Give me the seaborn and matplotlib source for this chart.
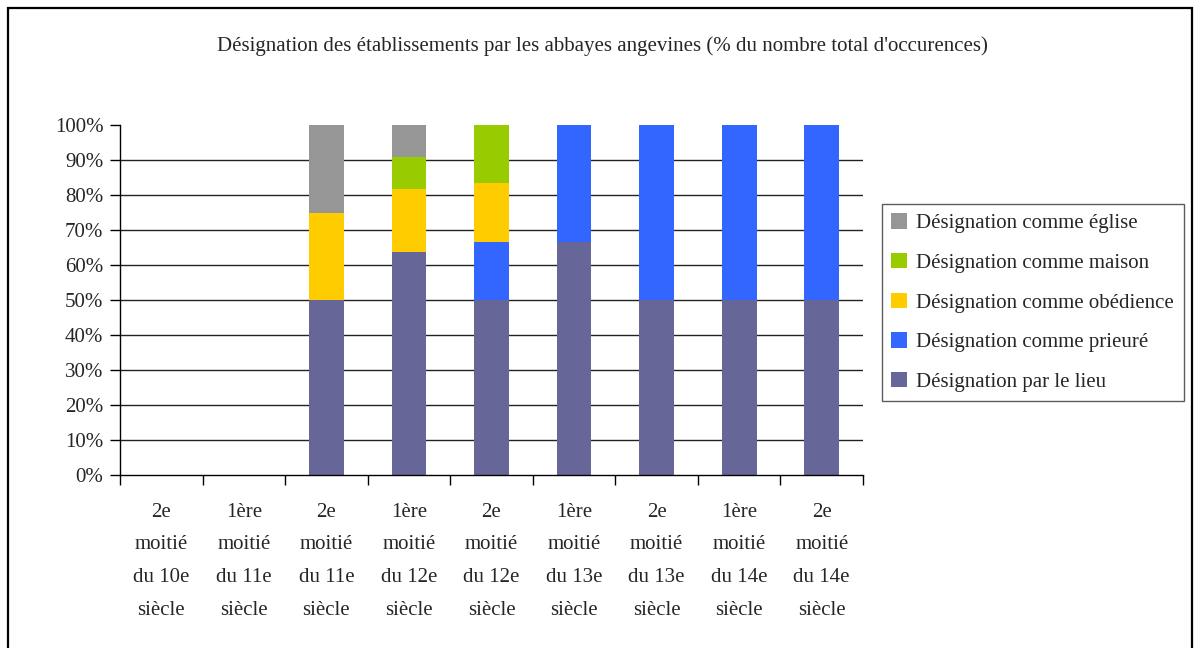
import matplotlib
matplotlib.use("Agg")
import matplotlib.pyplot as plt
from matplotlib.patches import Rectangle, Patch
import seaborn as sns
import pandas as pd
import numpy as np

# Period labels (x categories)
periodes = [
    "2e\nmoitié\ndu 10e\nsiècle",
    "1ère\nmoitié\ndu 11e\nsiècle",
    "2e\nmoitié\ndu 11e\nsiècle",
    "1ère\nmoitié\ndu 12e\nsiècle",
    "2e\nmoitié\ndu 12e\nsiècle",
    "1ère\nmoitié\ndu 13e\nsiècle",
    "2e\nmoitié\ndu 13e\nsiècle",
    "1ère\nmoitié\ndu 14e\nsiècle",
    "2e\nmoitié\ndu 14e\nsiècle",
]

# Share of occurrences (%) per designation, stacked bottom to top
lieu = [0, 0, 50.0, 63.64, 50.0, 66.67, 50.0, 50.0, 50.0]
prieure = [0, 0, 0, 0, 16.67, 33.33, 50.0, 50.0, 50.0]
obedience = [0, 0, 25.0, 18.18, 16.67, 0, 0, 0, 0]
maison = [0, 0, 0, 9.09, 16.67, 0, 0, 0, 0]
eglise = [0, 0, 25.0, 9.09, 0, 0, 0, 0, 0]

series_names = [
    "Désignation par le lieu",
    "Désignation comme prieuré",
    "Désignation comme obédience",
    "Désignation comme maison",
    "Désignation comme église",
]
series_values = [lieu, prieure, obedience, maison, eglise]
series_colors = ["#666699", "#3366FF", "#FFCC00", "#99CC00", "#969696"]

title = "Désignation des établissements par les abbayes angevines (% du nombre total d'occurences)"

sns.set_theme(style="white")
plt.rcParams["font.family"] = ["Liberation Serif", "DejaVu Serif"]
FS = 15

W, H = 1194, 648
fig = plt.figure(figsize=(W / 100, H / 100), dpi=100)
ax = fig.add_axes([120 / W, 1 - 475 / H, (863 - 120) / W, (475 - 125) / H])

# Long-form table with cumulative tops for layered drawing
rows = []
cum = np.zeros(len(periodes))
for name, vals in zip(series_names, series_values):
    cum = cum + np.array(vals)
    for p, top in zip(periodes, cum):
        rows.append({"periode": p, "serie": name, "top": top})
df = pd.DataFrame(rows)

# Draw highest cumulative layer first so lower layers cover it
for name, color in reversed(list(zip(series_names, series_colors))):
    sub = df[df["serie"] == name]
    sns.barplot(data=sub, x="periode", y="top", order=periodes, color=color,
                width=0.42, ax=ax, saturation=1, edgecolor="none", linewidth=0)

ax.set_xlim(-0.5, len(periodes) - 0.5)
ax.set_ylim(0, 100)
ax.set_xlabel("")
ax.set_ylabel("")

yt = np.arange(0, 101, 10)
ax.set_yticks(yt)
ax.set_yticklabels([f"{v}%" for v in yt], fontsize=FS)
for v in yt[1:-1]:
    ax.axhline(v, color="#222222", linewidth=1.0, zorder=0)

ax.set_xticks(range(len(periodes)))
ax.set_xticklabels(periodes, fontsize=FS, linespacing=1.97)
ax.set_xticks(np.arange(-0.5, len(periodes), 1.0), minor=True)
ax.tick_params(axis="x", which="major", length=0, pad=20)
ax.tick_params(axis="x", which="minor", length=7, width=1, color="black", direction="out")
ax.tick_params(axis="y", which="major", length=7, width=1, color="black", direction="out", pad=5)
ax.yaxis.set_ticks_position("left")
ax.xaxis.set_ticks_position("bottom")

for s in ["top", "right"]:
    ax.spines[s].set_visible(False)
for s in ["left", "bottom"]:
    ax.spines[s].set_color("black")
    ax.spines[s].set_linewidth(1.0)

fig.text(602 / W, 1 - 46 / H, title, ha="center", va="center", fontsize=FS)

handles = [Patch(facecolor=c, edgecolor="none") for c in reversed(series_colors)]
labels = list(reversed(series_names))
leg = fig.legend(handles, labels, loc="upper left",
                 bbox_to_anchor=(882 / W, 1 - 204 / H), fontsize=FS,
                 frameon=True, fancybox=False, edgecolor="#333333",
                 handlelength=0.75, handleheight=0.75, handletextpad=0.45,
                 labelspacing=0.95, borderpad=0.45, borderaxespad=0)
leg.get_frame().set_linewidth(1.0)

# Outer chart frame
fig.add_artist(Rectangle((8 / W, -0.05), (1192 - 8) / W, 1.05 - 8 / H,
                         transform=fig.transFigure, fill=False,
                         edgecolor="black", linewidth=1.6, clip_on=False))

fig.savefig("out.png", dpi=100)
